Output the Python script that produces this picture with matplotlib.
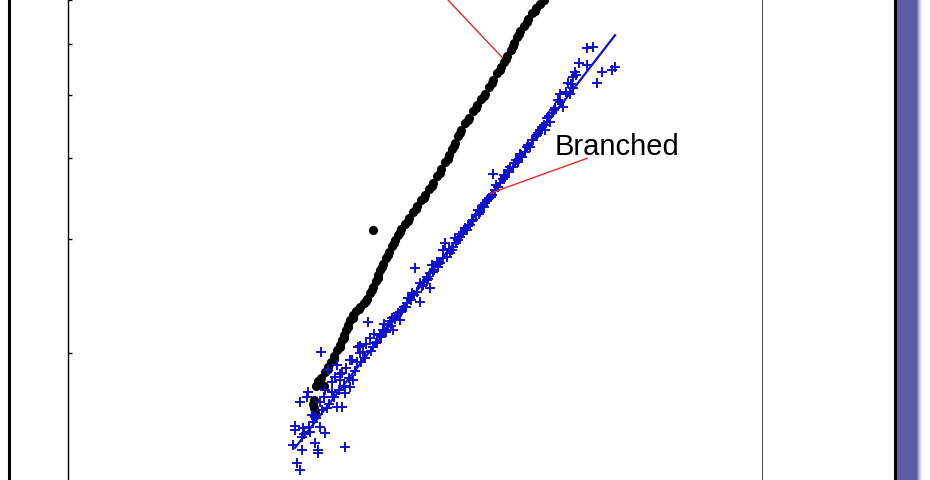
import numpy as np
import matplotlib
matplotlib.use("Agg")
import matplotlib.pyplot as plt
from matplotlib.patches import Rectangle
from matplotlib.lines import Line2D

# log M (x) and log [eta] (y)
linear_logM = [4.575, 4.570, 4.565, 4.570, 4.580, 4.600, 4.620, 4.590, 4.605, 4.625,
               4.640, 4.655, 4.670, 4.685, 4.700, 4.710, 4.720, 4.730, 4.740, 4.750,
               4.765, 4.780, 4.800, 4.820, 4.835, 4.850, 4.865, 4.880, 4.890, 4.900,
               4.915, 4.930, 4.945, 4.960, 4.975, 4.990, 5.005, 5.025, 5.045, 5.065,
               5.085, 5.105, 5.125, 5.145, 5.165, 5.185, 5.205, 5.225, 5.245, 5.260,
               5.275, 5.290, 5.305, 5.325, 5.345, 5.365, 5.385, 5.405, 5.425, 5.445,
               5.465, 5.485, 5.505, 5.520, 5.535, 5.555, 5.570, 5.585, 5.600, 5.620,
               5.640, 5.660, 5.680, 5.700, 5.720, 4.865,
               4.638, 4.668, 4.698, 4.720, 4.740, 4.763, 4.795, 4.832, 4.862, 4.890,
               4.912, 4.942, 4.972, 5.002, 5.040, 5.080, 5.120, 5.160, 5.200, 5.240,
               5.272, 5.302, 5.340, 5.380, 5.420, 5.460, 5.500, 5.532, 5.567, 5.597,
               5.635, 5.675]
linear_logeta = [0.209, 0.216, 0.222, 0.228, 0.249, 0.252, 0.249, 0.257, 0.262, 0.271,
                 0.279, 0.286, 0.296, 0.305, 0.313, 0.320, 0.328, 0.336, 0.343, 0.351,
                 0.359, 0.365, 0.371, 0.377, 0.384, 0.393, 0.402, 0.411, 0.421, 0.428,
                 0.438, 0.447, 0.456, 0.465, 0.475, 0.482, 0.492, 0.499, 0.509, 0.518,
                 0.527, 0.536, 0.544, 0.553, 0.563, 0.573, 0.584, 0.595, 0.606, 0.615,
                 0.624, 0.635, 0.644, 0.655, 0.664, 0.674, 0.683, 0.692, 0.701, 0.711,
                 0.722, 0.732, 0.742, 0.749, 0.759, 0.769, 0.779, 0.788, 0.797, 0.806,
                 0.816, 0.825, 0.833, 0.840, 0.845, 0.490,
                 0.275, 0.291, 0.309, 0.324, 0.340, 0.355, 0.368, 0.381, 0.398, 0.416,
                 0.433, 0.452, 0.470, 0.487, 0.504, 0.523, 0.540, 0.558, 0.579, 0.600,
                 0.620, 0.640, 0.660, 0.679, 0.697, 0.717, 0.737, 0.754, 0.774, 0.793,
                 0.811, 0.829]

branched_logM = [5.935, 5.965, 5.895, 5.935, 6.010, 6.060, 6.075, 5.985, 5.875, 5.865,
                 5.840, 5.865, 5.850, 5.800, 5.790, 5.815, 5.775, 5.760, 5.735, 5.750,
                 5.710, 5.725, 5.690, 5.665, 5.650, 5.625, 5.610, 5.590, 5.565, 5.540,
                 5.525, 5.465, 5.500, 5.475, 5.460, 5.435, 5.415, 5.425, 5.390, 5.365,
                 5.335, 5.300, 5.315, 5.290, 5.225, 5.265, 5.260, 5.235, 5.185, 5.160,
                 5.190, 5.075, 5.150, 5.135, 5.100, 5.115, 5.150, 5.060, 5.040, 5.100,
                 5.035, 5.010, 4.990, 4.960, 5.000, 4.840, 4.940, 4.965, 4.915, 4.900,
                 4.850, 4.885, 4.800, 4.865, 4.605, 4.790, 4.815, 4.750, 4.785, 4.685,
                 4.640, 4.710, 4.675, 4.765, 4.750, 4.700, 4.625, 4.660, 4.725, 4.540,
                 4.535, 4.500, 4.685, 4.710, 4.635, 4.575, 4.565, 4.475, 4.475, 4.600,
                 4.625, 4.515, 4.550, 4.510, 4.465, 4.575, 4.510, 4.590, 4.590, 4.725,
                 4.485, 4.500, 5.400, 5.380, 5.350, 5.325, 5.275, 5.215, 5.050, 5.135,
                 5.445, 5.480, 5.520, 5.550, 5.580, 5.600, 5.640, 5.680, 5.700, 4.560,
                 4.600, 4.620, 4.660, 4.700, 4.730, 4.760, 4.800, 4.830, 4.870, 4.920,
                 4.950, 4.980, 5.020, 5.070, 5.120, 5.170, 5.200, 5.250,
                 4.520, 4.545, 4.580, 4.610, 4.645, 4.670, 4.695, 4.720, 4.745, 4.775,
                 4.805, 4.825, 4.855, 4.880, 4.905, 4.930, 4.955, 4.975, 5.005, 5.030,
                 5.055, 5.085, 5.110, 5.140, 5.165, 5.190, 5.215, 5.245, 5.280, 5.305,
                 5.340, 5.360, 5.395, 5.420, 5.455, 5.490, 5.515, 5.545, 5.575, 5.605,
                 5.635, 5.660, 5.685, 5.720, 5.745, 5.770, 5.800, 5.830, 5.855, 5.880]
branched_logeta = [0.771, 0.773, 0.748, 0.745, 0.735, 0.737, 0.742, 0.717, 0.734, 0.726,
                   0.717, 0.709, 0.701, 0.701, 0.691, 0.680, 0.678, 0.671, 0.663, 0.657,
                   0.649, 0.644, 0.640, 0.629, 0.618, 0.610, 0.603, 0.595, 0.587, 0.583,
                   0.572, 0.577, 0.563, 0.552, 0.544, 0.536, 0.529, 0.532, 0.521, 0.506,
                   0.490, 0.479, 0.487, 0.475, 0.470, 0.464, 0.459, 0.448, 0.441, 0.436,
                   0.433, 0.432, 0.424, 0.413, 0.408, 0.405, 0.401, 0.393, 0.385, 0.379,
                   0.377, 0.367, 0.362, 0.354, 0.351, 0.348, 0.343, 0.336, 0.336, 0.328,
                   0.323, 0.317, 0.311, 0.310, 0.302, 0.310, 0.302, 0.289, 0.286, 0.282,
                   0.274, 0.269, 0.263, 0.259, 0.248, 0.259, 0.243, 0.240, 0.239, 0.240,
                   0.232, 0.225, 0.217, 0.217, 0.216, 0.202, 0.194, 0.188, 0.182, 0.186,
                   0.177, 0.185, 0.178, 0.171, 0.158, 0.162, 0.151, 0.151, 0.146, 0.155,
                   0.131, 0.120, 0.518, 0.513, 0.498, 0.493, 0.478, 0.459, 0.385, 0.418,
                   0.540, 0.560, 0.575, 0.588, 0.598, 0.608, 0.622, 0.635, 0.645, 0.205,
                   0.225, 0.232, 0.255, 0.268, 0.278, 0.290, 0.300, 0.315, 0.330, 0.345,
                   0.350, 0.358, 0.372, 0.390, 0.410, 0.428, 0.440, 0.455,
                   0.175, 0.186, 0.200, 0.212, 0.222, 0.233, 0.243, 0.250, 0.262, 0.272,
                   0.286, 0.292, 0.303, 0.316, 0.325, 0.333, 0.342, 0.353, 0.364, 0.372,
                   0.383, 0.394, 0.404, 0.415, 0.425, 0.438, 0.447, 0.461, 0.470, 0.484,
                   0.497, 0.505, 0.515, 0.526, 0.541, 0.556, 0.569, 0.580, 0.594, 0.606,
                   0.619, 0.630, 0.637, 0.652, 0.666, 0.675, 0.688, 0.703, 0.715, 0.730]

# fitted line through the branched data (end points)
fit_logM = [4.475, 6.075]
fit_logeta = [0.154, 0.791]

# annotation leader lines
linear_leader_M = [5.165, 5.510]
linear_leader_eta = [0.870, 0.757]
branched_leader_M = [5.935, 5.450]
branched_leader_eta = [0.601, 0.547]

eta_ticks = [2, 3, 4, 5, 6, 7]

fig = plt.figure(figsize=(9.3, 4.8), dpi=100)
fig.patch.set_facecolor("white")
ax = fig.add_axes([68 / 930, -0.1408, 694 / 930, 1.151])

ax.plot(linear_logM, linear_logeta, "o", color="black", markersize=6.6,
        markeredgewidth=0, zorder=3)
ax.plot(branched_logM, branched_logeta, "+", color="#1010cc", markersize=7.2,
        markeredgewidth=1.4, zorder=4)
ax.plot(fit_logM, fit_logeta, "-", color="#1010cc", lw=1.6, zorder=4)

ax.plot(linear_leader_M, linear_leader_eta, "-", color="#e8262a", lw=1.0,
        clip_on=False, zorder=5)
ax.plot(branched_leader_M, branched_leader_eta, "-", color="#e8262a", lw=1.0,
        zorder=5)
ax.text(5.775, 0.606, "Branched", fontsize=21, va="baseline", ha="left",
        family=["Liberation Sans", "DejaVu Sans"])

ax.set_xlim(3.34, 6.81)
ax.set_ylim(0.0, 0.853)
ax.set_xticks([])
ax.set_yticks(np.log10(eta_ticks))
ax.set_yticklabels([])
ax.tick_params(axis="y", direction="in", length=3, width=1, color="black")
ax.spines["top"].set_visible(False)
ax.spines["bottom"].set_visible(False)
ax.spines["left"].set_linewidth(1.0)
ax.spines["right"].set_linewidth(0.8)
ax.spines["right"].set_color("#555555")

# slide frame: left border, right border and purple side bar
fig.add_artist(Line2D([8.5 / 930, 8.5 / 930], [0, 1], color="black", lw=2.2))
fig.add_artist(Line2D([895 / 930, 895 / 930], [0, 1], color="black", lw=2.2))
fig.add_artist(Rectangle((897 / 930, 0), 20 / 930, 1, color="#5e5ba5", lw=0))
for i, a in enumerate([0.8, 0.6, 0.4, 0.25, 0.12]):
    fig.add_artist(Rectangle(((917 + i) / 930, 0), 1 / 930, 1,
                             color="#5e5ba5", alpha=a, lw=0))

fig.savefig("out.png", dpi=100)
